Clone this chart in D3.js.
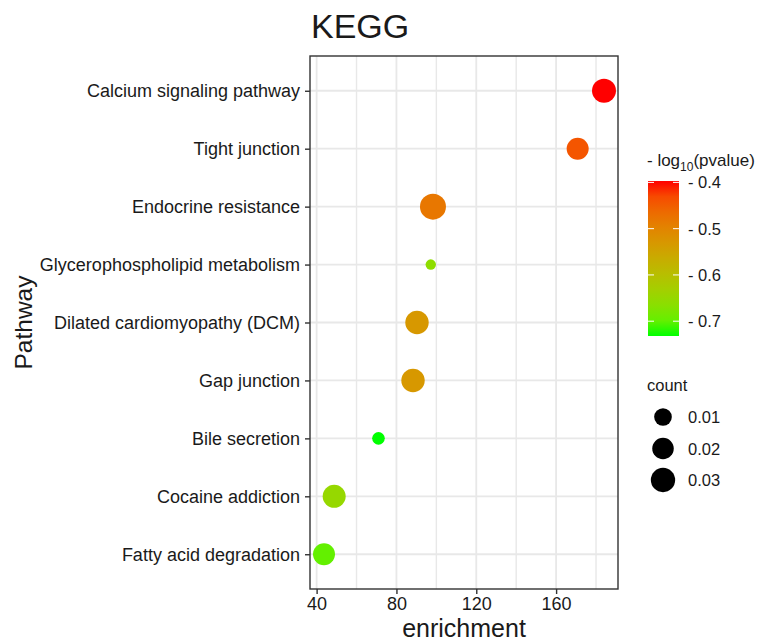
<!doctype html>
<html lang="en">
<head>
    <meta charset="UTF-8" />
    <script src="https://d3js.org/d3.v7.min.js"></script>
    <title>KEGG</title>
    <style>
        body { margin: 0; background: #fff; }
        text { font-family: "Liberation Sans", Arial, sans-serif; fill: #1a1a1a; }
    </style>
</head>
<body>
    <div id="chart"></div>
    <script>
        // Data
        const pathways = [
            "Calcium signaling pathway",
            "Tight junction",
            "Endocrine resistance",
            "Glycerophospholipid metabolism",
            "Dilated cardiomyopathy (DCM)",
            "Gap junction",
            "Bile secretion",
            "Cocaine addiction",
            "Fatty acid degradation"
        ]
        const enrichment = [184, 170.8, 98.3, 97.2, 90.3, 88.3, 71, 48.8, 43.7]
        const logP = [-0.397, -0.44, -0.48, -0.66, -0.53, -0.53, -0.732, -0.65, -0.70]
        const counts = [0.0287, 0.0216, 0.037, 0.0025, 0.0265, 0.0265, 0.0032, 0.025, 0.0216]

        const xTicks = [40, 80, 120, 160]
        const colorTicks = [-0.4, -0.5, -0.6, -0.7]
        const countTicks = [0.01, 0.02, 0.03]

        const W = 761, H = 641
        const panel = { left: 310, top: 56, right: 618, bottom: 589 }

        const svg = d3.select("#chart").append("svg")
            .attr("width", W)
            .attr("height", H)

        const data = pathways.map((p, i) => ({
            pathway: p, enrichment: enrichment[i], logP: logP[i], count: counts[i]
        }))

        // scales (ggplot style 5% expansion on continuous axis)
        const [xmin, xmax] = d3.extent(enrichment)
        const pad = (xmax - xmin) * 0.05
        const x = d3.scaleLinear()
            .domain([xmin - pad, xmax + pad])
            .range([panel.left, panel.right])

        const y = d3.scalePoint()
            .domain(pathways)
            .range([panel.top, panel.bottom])
            .padding(0.6)

        const colorDomain = d3.extent(logP)
        const color = d3.scaleLinear()
            .domain(colorDomain)
            .range(["#00ff00", "#ff0000"])
            .interpolate(d3.interpolateLab)

        // area-style size scale: radius grows with sqrt of rescaled count
        const [cmin, cmax] = d3.extent(counts)
        const rLin = d3.scaleLinear().domain([0, 1]).range([5.2, 13])
        const radius = v => rLin(Math.sqrt(Math.max(0, (v - cmin) / (cmax - cmin))))

        // panel background and grid
        svg.append("rect")
            .attr("x", panel.left).attr("y", panel.top)
            .attr("width", panel.right - panel.left)
            .attr("height", panel.bottom - panel.top)
            .attr("fill", "#fff")

        const grid = svg.append("g")
        const minorTicks = xTicks.map(t => t + 20).filter(t => x(t) < panel.right)
        grid.selectAll(".minor").data(minorTicks).enter().append("line")
            .attr("x1", d => x(d)).attr("x2", d => x(d))
            .attr("y1", panel.top).attr("y2", panel.bottom)
            .attr("stroke", "#e8e8e8").attr("stroke-width", 1.4)
        grid.selectAll(".major").data(xTicks).enter().append("line")
            .attr("x1", d => x(d)).attr("x2", d => x(d))
            .attr("y1", panel.top).attr("y2", panel.bottom)
            .attr("stroke", "#e8e8e8").attr("stroke-width", 1.8)
        grid.selectAll(".hline").data(pathways).enter().append("line")
            .attr("x1", panel.left).attr("x2", panel.right)
            .attr("y1", d => y(d)).attr("y2", d => y(d))
            .attr("stroke", "#e8e8e8").attr("stroke-width", 1.8)

        // points
        svg.selectAll(".dot").data(data).enter().append("circle")
            .attr("class", "dot")
            .attr("cx", d => x(d.enrichment))
            .attr("cy", d => y(d.pathway))
            .attr("r", d => radius(d.count))
            .attr("fill", d => color(d.logP))

        // border
        svg.append("rect")
            .attr("x", panel.left).attr("y", panel.top)
            .attr("width", panel.right - panel.left)
            .attr("height", panel.bottom - panel.top)
            .attr("fill", "none")
            .attr("stroke", "#333").attr("stroke-width", 1.4)

        // axes
        const xAxis = svg.append("g")
            .attr("transform", `translate(0,${panel.bottom})`)
            .call(d3.axisBottom(x).tickValues(xTicks).tickSize(5).tickPadding(3))
        const yAxis = svg.append("g")
            .attr("transform", `translate(${panel.left},0)`)
            .call(d3.axisLeft(y).tickSize(5).tickPadding(5))
        ;[xAxis, yAxis].forEach(ax => {
            ax.select(".domain").remove()
            ax.selectAll(".tick line").attr("stroke", "#333").attr("stroke-width", 1.4)
            ax.selectAll(".tick text")
                .attr("fill", "#1a1a1a")
                .style("font-size", "18px")
                .style("font-family", "'Liberation Sans', Arial, sans-serif")
        })

        // titles
        svg.append("text")
            .attr("x", panel.left + 1).attr("y", 38)
            .style("font-size", "34px")
            .text("KEGG")

        svg.append("text")
            .attr("x", (panel.left + panel.right) / 2).attr("y", 637)
            .attr("text-anchor", "middle")
            .style("font-size", "25px")
            .text("enrichment")

        svg.append("text")
            .attr("transform", `translate(32,${(panel.top + panel.bottom) / 2}) rotate(-90)`)
            .attr("text-anchor", "middle")
            .style("font-size", "24.5px")
            .text("Pathway")

        // colour legend
        const bar = { x: 648, y: 181, w: 31, h: 155 }
        const defs = svg.append("defs")
        const grad = defs.append("linearGradient")
            .attr("id", "cgrad")
            .attr("x1", 0).attr("y1", 1).attr("x2", 0).attr("y2", 0)
        d3.range(0, 1.0001, 0.1).forEach(t => {
            grad.append("stop")
                .attr("offset", t)
                .attr("stop-color", color(colorDomain[0] + t * (colorDomain[1] - colorDomain[0])))
        })
        const barScale = d3.scaleLinear()
            .domain(colorDomain)
            .range([bar.y + bar.h, bar.y])

        const cLegend = svg.append("g")
        const cTitle = cLegend.append("text")
            .attr("x", 647).attr("y", 166)
            .style("font-size", "17px")
        cTitle.append("tspan").text("- log")
        cTitle.append("tspan").attr("dy", 5).style("font-size", "12px").text("10")
        cTitle.append("tspan").attr("dy", -5).text("(pvalue)")

        cLegend.append("rect")
            .attr("x", bar.x).attr("y", bar.y)
            .attr("width", bar.w).attr("height", bar.h)
            .attr("fill", "url(#cgrad)")

        colorTicks.forEach(t => {
            const ty = barScale(t)
            cLegend.append("line")
                .attr("x1", bar.x).attr("x2", bar.x + 6)
                .attr("y1", ty).attr("y2", ty)
                .attr("stroke", "#fff").attr("stroke-width", 1)
            cLegend.append("line")
                .attr("x1", bar.x + bar.w - 6).attr("x2", bar.x + bar.w)
                .attr("y1", ty).attr("y2", ty)
                .attr("stroke", "#fff").attr("stroke-width", 1)
            cLegend.append("text")
                .attr("x", bar.x + bar.w + 9).attr("y", ty + 6)
                .style("font-size", "16.5px")
                .text("- " + Math.abs(t).toFixed(1))
        })

        // size legend
        const sLegend = svg.append("g")
        sLegend.append("text")
            .attr("x", 647).attr("y", 391)
            .style("font-size", "16.5px")
            .text("count")
        const sY = d3.scalePoint().domain(countTicks).range([417, 480])
        countTicks.forEach(c => {
            sLegend.append("circle")
                .attr("cx", 663).attr("cy", sY(c))
                .attr("r", radius(c))
                .attr("fill", "#000")
            sLegend.append("text")
                .attr("x", 688).attr("y", sY(c) + 6)
                .style("font-size", "16.5px")
                .text(c.toFixed(2))
        })
    </script>
</body>
</html>
